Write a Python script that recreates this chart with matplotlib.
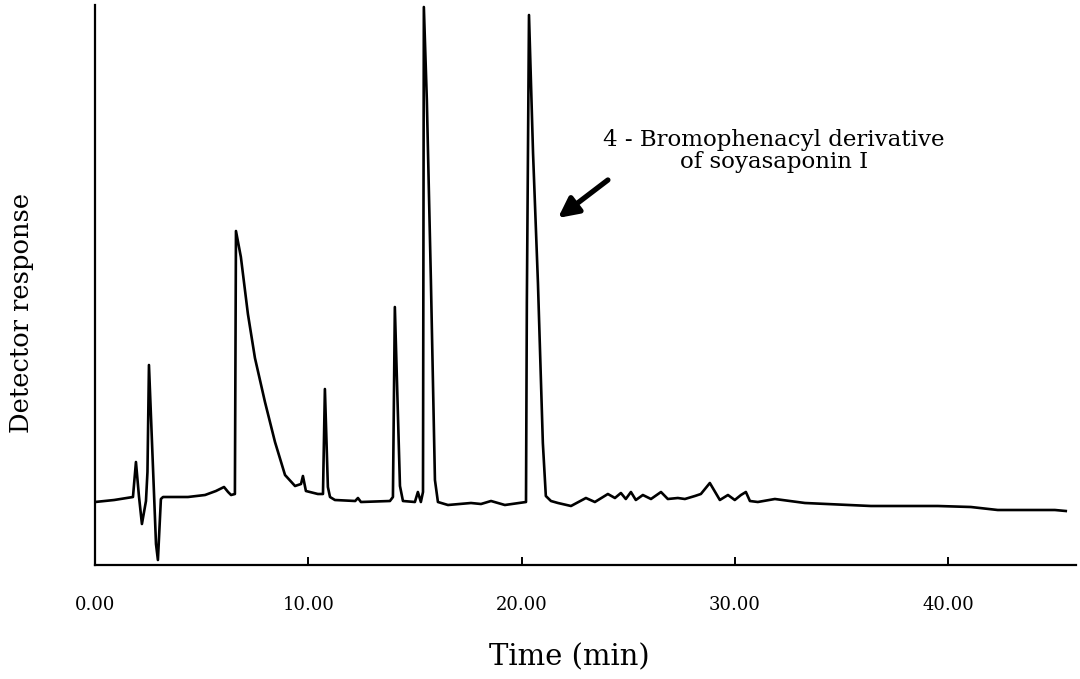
import matplotlib
matplotlib.use("Agg")
import matplotlib.pyplot as plt

# Retention time (min) and detector response (arbitrary units)
time_min = [0.00, 0.90, 1.78, 1.92, 2.06, 2.20, 2.39, 2.46, 2.53, 2.86, 2.95, 3.09, 3.19,
            4.36, 5.16, 5.67, 6.05, 6.24, 6.38, 6.56, 6.61, 6.84, 7.17, 7.50, 7.97, 8.44,
            8.91, 9.38, 9.66, 9.75, 9.89, 10.45, 10.69, 10.78, 10.92, 11.02, 11.25, 12.20,
            12.33, 12.47, 13.83, 13.97, 14.06, 14.30, 14.44, 15.00, 15.14, 15.28, 15.38,
            15.42, 15.56, 15.75, 15.94, 16.08, 16.55, 17.63, 18.10, 18.57, 19.22, 20.21,
            20.25, 20.35, 20.54, 20.77, 21.00, 21.14, 21.38, 21.71, 22.32, 23.02, 23.44,
            24.05, 24.38, 24.66, 24.89, 25.13, 25.36, 25.69, 26.07, 26.54, 26.86, 27.33,
            27.66, 28.13, 28.41, 28.83, 29.30, 29.68, 30.00, 30.29, 30.52, 30.71, 31.08,
            31.88, 33.29, 36.38, 39.52, 41.07, 42.33, 43.41, 45.01, 45.52]
response = [63, 65, 68, 103, 69, 41, 64, 93, 200, 21, 5, 66, 68,
            68, 70, 74, 78, 73, 70, 71, 334, 308, 251, 207, 163, 123,
            90, 79, 81, 89, 74, 71, 71, 176, 78, 68, 65, 64,
            67, 63, 64, 68, 258, 79, 64, 63, 73, 63, 73,
            558, 465, 285, 85, 63, 60, 62, 61, 64, 60, 63,
            263, 550, 412, 282, 122, 69, 64, 62, 59, 67, 63,
            71, 67, 72, 66, 73, 65, 70, 66, 73, 66, 67,
            66, 69, 71, 82, 65, 70, 65, 70, 73, 64, 63,
            66, 62, 59, 59, 58, 55, 55, 55, 54]

xtick_values = [0, 10, 20, 30, 40]
xtick_labels = ["0.00", "10.00", "20.00", "30.00", "40.00"]

annotation_text = "4 - Bromophenacyl derivative\nof soyasaponin I"
annotation_text_pos = (31.85, 414)
arrow_head = (21.71, 347)
arrow_tail = (24.05, 385)

plt.rcParams["font.family"] = ["DejaVu Serif"]

fig = plt.figure(figsize=(10.8, 6.79), dpi=100)
ax = fig.add_axes([95 / 1080, 1 - 565 / 679, 981 / 1080, 560 / 679])

ax.plot(time_min, response, color="black", lw=1.9, solid_joinstyle="round")

ax.set_xlim(0, 46)
ax.set_ylim(0, 560)

for side in ("top", "right"):
    ax.spines[side].set_visible(False)
for side in ("left", "bottom"):
    ax.spines[side].set_linewidth(1.6)

ax.set_yticks([])
ax.set_xticks(xtick_values)
ax.set_xticklabels(xtick_labels, fontsize=13)
ax.tick_params(axis="x", direction="in", length=6, width=1.4, pad=22)

ax.set_xlabel("Time (min)", fontsize=21)
ax.xaxis.set_label_coords(0.484, -0.140)
ax.set_ylabel("Detector response", fontsize=18.5)
ax.yaxis.set_label_coords(-0.062, 0.45)

ax.text(*annotation_text_pos, annotation_text, ha="center", va="center",
        multialignment="center", fontsize=16.5, linespacing=1.0)
ax.annotate("", xy=arrow_head, xytext=arrow_tail,
            arrowprops=dict(arrowstyle="-|>", color="black", lw=3.8,
                            mutation_scale=30, shrinkA=0, shrinkB=0))

fig.savefig("out.png", dpi=100)
